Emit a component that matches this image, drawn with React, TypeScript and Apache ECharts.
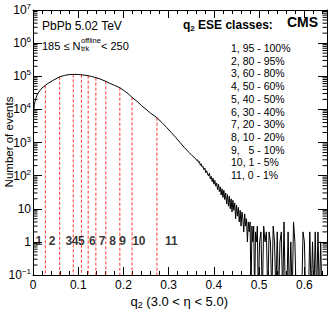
import React, { useEffect, useRef } from 'react';
import * as echarts from 'echarts';

const FONT = '"Liberation Sans", Arial, Helvetica, sans-serif';

// smooth part of the q2 distribution
const curveQ2 = [0.001, 0.003, 0.006, 0.010, 0.015, 0.020, 0.027, 0.035, 0.045, 0.059, 0.070, 0.080, 0.090, 0.100, 0.107, 0.115, 0.122, 0.130, 0.139, 0.150, 0.161, 0.170, 0.180, 0.192, 0.200, 0.210, 0.219, 0.230, 0.240, 0.250, 0.260, 0.274, 0.285, 0.296, 0.305, 0.315, 0.325, 0.335, 0.345, 0.352];
const curveCounts = [7000, 14000, 21000, 29000, 37000, 44000, 53000, 63000, 76000, 96000, 106000, 112000, 114000, 113000, 111000, 107000, 104000, 98000, 91000, 81000, 70000, 61000, 53000, 45000, 38000, 30000, 23000, 17500, 13000, 10000, 7700, 5600, 4000, 2800, 2050, 1450, 1000, 700, 500, 400];

// fluctuating tail, fine bins
const tailQ2 = [0.360, 0.362, 0.364, 0.366, 0.368, 0.370, 0.372, 0.374, 0.376, 0.378, 0.380, 0.382, 0.384, 0.386, 0.388, 0.390, 0.392, 0.394, 0.396, 0.398, 0.400, 0.402, 0.404, 0.406, 0.408, 0.410, 0.412, 0.414, 0.416, 0.418, 0.420, 0.422, 0.424, 0.426, 0.428, 0.430, 0.432, 0.434, 0.436, 0.438, 0.440, 0.442, 0.444, 0.446, 0.448, 0.450, 0.452, 0.454, 0.456, 0.458, 0.460, 0.462, 0.464, 0.466, 0.468, 0.470, 0.472, 0.474, 0.476, 0.478, 0.480, 0.482, 0.484, 0.486, 0.488, 0.490, 0.492, 0.494, 0.496, 0.498];
const tailCounts = [320, 285, 300, 250, 262, 205, 228, 180, 190, 150, 168, 122, 140, 112, 98, 118, 80, 95, 66, 84, 55, 72, 48, 60, 38, 55, 33, 46, 26, 40, 22, 36, 19, 30, 14, 27, 12, 24, 10, 20, 8, 18, 9, 15, 5, 13, 6, 11, 4, 9, 3, 8, 5, 2, 7, 3, 5, 1, 4, 2, 4, 0, 3, 1, 3, 0, 2, 1, 3, 0];

// sparse far tail
const farQ2 = [0.501, 0.504, 0.507, 0.510, 0.513, 0.516, 0.519, 0.522, 0.525, 0.528, 0.531, 0.534, 0.537, 0.540, 0.543, 0.546, 0.549, 0.552, 0.555, 0.558, 0.561, 0.564, 0.567, 0.570, 0.573, 0.576, 0.579, 0.582, 0.585, 0.588, 0.591, 0.594, 0.597, 0.600, 0.603, 0.606, 0.609, 0.612, 0.615, 0.618, 0.621, 0.624, 0.627, 0.630, 0.633, 0.636, 0.639, 0.642, 0.645, 0.648];
const farCounts = [1, 2, 0, 3, 1, 2, 0, 2, 1, 0, 3, 1, 0, 2, 0, 1, 2, 0, 4, 0, 0, 2, 0, 1, 0, 4, 1, 0, 0, 0, 0, 0, 2, 1, 0, 0, 0, 2, 0, 1, 0, 2, 0, 2, 0, 1, 0, 0, 0, 0];

// ESE class boundaries (red dashed lines)
const boundaryQ2 = [0.0273, 0.059, 0.089, 0.107, 0.122, 0.139, 0.161, 0.192, 0.219, 0.274];
const boundaryCounts = [53000, 96000, 114000, 111000, 104000, 91000, 70000, 45000, 23000, 5600];

// class numbers drawn above the axis
const classNumbers = ['1', '2', '3', '4', '5', '6', '7', '8', '9', '10', '11'];
const classLabelQ2 = [0.013, 0.042, 0.079, 0.093, 0.107, 0.131, 0.153, 0.176, 0.198, 0.234, 0.306];
const classLabelLevel = 1.1;

const classRanges = ['1, 95 - 100%', '2, 80 - 95%', '3, 60 - 80%', '4, 50 - 60%', '5, 40 - 50%', '6, 30 - 40%', '7, 20 - 30%', '8, 10 - 20%', '9,\u00a0\u00a0\u00a05 - 10%', '10, 1 - 5%', '11, 0 - 1%'];

const logMinorTicks: number[] = [];
for (let e = -1; e < 7; e++) {
  for (let m = 2; m <= 9; m++) logMinorTicks.push(m * Math.pow(10, e));
}

const X_MIN = 0;
const X_MAX = 0.65;
const Y_MIN = 0.1;
const Y_MAX = 1e7;
const ZERO_FLOOR = 0.02;

function yLabel(v: number) {
  const e = Math.round(Math.log10(v));
  if (e === 0) return '{n|1}';
  if (e === 1) return '{n|10}';
  return '{n|10}{s|' + (e < 0 ? '\u2212' : '') + Math.abs(e) + '}';
}

export default function App() {
  const ref = useRef<HTMLDivElement>(null);
  useEffect(() => {
    if (!ref.current) return;
    const chart = echarts.init(ref.current, null, { renderer: 'svg' });
    const allQ2 = curveQ2.concat(tailQ2, farQ2);
    const allCounts = curveCounts.concat(tailCounts, farCounts);
    const lineData = allQ2.map((q, i) => [q, allCounts[i] > 0 ? allCounts[i] : ZERO_FLOOR]);

    const xCommon = {
      type: 'value',
      min: X_MIN,
      max: X_MAX,
      interval: 0.1,
      axisLine: { show: true, onZero: false, lineStyle: { color: '#000', width: 1 } },
      axisTick: { show: true, inside: true, length: 8, lineStyle: { color: '#000', width: 1 } },
      minorTick: { show: true, splitNumber: 5, length: 4, lineStyle: { color: '#000', width: 1 } },
      splitLine: { show: false },
      minorSplitLine: { show: false },
    };
    const yCommon = {
      type: 'log',
      logBase: 10,
      min: Y_MIN,
      max: Y_MAX,
      splitNumber: 8,
      axisLine: { show: true, onZero: false, lineStyle: { color: '#000', width: 1 } },
      axisTick: { show: true, inside: true, length: 9, lineStyle: { color: '#000', width: 1 } },
      minorTick: { show: false },
      splitLine: { show: false },
    };

    const textStyle = (size: number, weight = 'normal') => ({
      fontSize: size,
      fontFamily: FONT,
      fontWeight: weight,
      fill: '#000',
    });

    const graphics: any[] = [
      {
        type: 'text', x: 42, y: 25.5,
        style: { text: 'PbPb 5.02 TeV', ...textStyle(12), align: 'left', verticalAlign: 'middle' },
      },
      {
        type: 'text', x: 42, y: 45.5,
        style: { text: '185 \u2264 N', ...textStyle(11), align: 'left', verticalAlign: 'middle' },
      },
      {
        type: 'text', x: 81, y: 40.5,
        style: { text: 'offline', ...textStyle(7.5), align: 'left', verticalAlign: 'middle' },
      },
      {
        type: 'text', x: 81, y: 48.5,
        style: { text: 'trk', ...textStyle(7.5), align: 'left', verticalAlign: 'middle' },
      },
      {
        type: 'text', x: 101, y: 45.5,
        style: { text: '< 250', ...textStyle(11), align: 'left', verticalAlign: 'middle' },
      },
      {
        type: 'text', x: 183, y: 25,
        style: {
          text: '{b|q}{s|2}{b| ESE classes:}',
          ...textStyle(12, 'bold'),
          align: 'left', verticalAlign: 'middle',
          rich: {
            b: { fontSize: 12, fontWeight: 'bold', fontFamily: FONT, fill: '#000' },
            s: { fontSize: 8, fontWeight: 'bold', fontFamily: FONT, fill: '#000', padding: [7, 0, 0, 0] },
          },
        },
      },
      {
        type: 'text', x: 287, y: 22,
        style: { text: 'CMS', ...textStyle(14, 'bold'), align: 'left', verticalAlign: 'middle' },
      },
      {
        type: 'text', x: 9, y: 142, rotation: Math.PI / 2,
        style: { text: 'Number of events', ...textStyle(11.5), align: 'center', verticalAlign: 'middle' },
      },
      {
        type: 'text', x: 228, y: 301,
        style: {
          text: '{a|q}{s|2}{a| (3.0 < \u03b7 < 5.0)}',
          ...textStyle(13),
          align: 'right', verticalAlign: 'middle',
          rich: {
            a: { fontSize: 13, fontFamily: FONT, fill: '#000' },
            s: { fontSize: 9, fontFamily: FONT, fill: '#000', padding: [8, 0, 0, 0] },
          },
        },
      },
    ];
    classRanges.forEach((t, i) => {
      graphics.push({
        type: 'text', x: 231, y: 48 + i * 12.7,
        style: { text: t, ...textStyle(10.5), align: 'left', verticalAlign: 'middle' },
      });
    });

    chart.setOption({
      animation: false,
      backgroundColor: '#fff',
      grid: { left: 33, right: 5, top: 10, bottom: 39, containLabel: false, outerBoundsMode: 'none' },
      xAxis: [
        {
          ...xCommon,
          position: 'bottom',
          axisLabel: {
            show: true, showMaxLabel: false, margin: 4, color: '#000', fontSize: 12, fontFamily: FONT,
            formatter: (v: number) => (v === 0 ? '0' : v.toFixed(1)),
          },
        },
        { ...xCommon, position: 'top', axisLabel: { show: false } },
      ],
      yAxis: [
        {
          ...yCommon,
          position: 'left',
          axisLabel: {
            show: true, margin: 2, color: '#000', fontSize: 12, fontFamily: FONT,
            formatter: yLabel,
            rich: {
              n: { fontSize: 12, fontFamily: FONT, color: '#000' },
              s: { fontSize: 8, fontFamily: FONT, color: '#000', padding: [0, 0, 7, 0] },
            },
          },
        },
        { ...yCommon, position: 'right', axisLabel: { show: false } },
      ],
      graphic: graphics,
      series: [
        {
          type: 'custom',
          xAxisIndex: 0,
          yAxisIndex: 0,
          data: boundaryQ2.map((q, i) => [q, boundaryCounts[i]]),
          encode: { x: 0, y: 1 },
          renderItem: (params: any, api: any) => {
            const top = api.coord([api.value(0), api.value(1)]);
            const bot = api.coord([api.value(0), Y_MIN]);
            return {
              type: 'line',
              shape: { x1: top[0], y1: top[1], x2: bot[0], y2: bot[1] },
              style: { stroke: '#ff3030', lineWidth: 1, lineDash: [3, 2] },
            };
          },
          z: 2,
        },
        {
          type: 'line',
          xAxisIndex: 0,
          yAxisIndex: 0,
          data: lineData,
          showSymbol: false,
          symbol: 'none',
          clip: true,
          lineStyle: { color: '#000', width: 1 },
          z: 3,
        },
        {
          type: 'scatter',
          xAxisIndex: 0,
          yAxisIndex: 0,
          symbolSize: 1,
          itemStyle: { color: 'rgba(0,0,0,0)' },
          data: classLabelQ2.map((q, i) => ({ value: [q, classLabelLevel], name: classNumbers[i] })),
          label: {
            show: true,
            position: 'inside',
            formatter: '{b}',
            color: '#000',
            fontSize: 12,
            fontWeight: 'bold',
            fontFamily: FONT,
          },
          z: 4,
        },
        {
          type: 'custom',
          xAxisIndex: 0,
          yAxisIndex: 0,
          data: logMinorTicks.map((v) => [X_MIN, v]),
          encode: { x: 0, y: 1 },
          clip: false,
          renderItem: (params: any, api: any) => {
            const v = api.value(1);
            const pl = api.coord([X_MIN, v]);
            const pr = api.coord([X_MAX, v]);
            return {
              type: 'group',
              children: [
                { type: 'line', shape: { x1: pl[0], y1: pl[1], x2: pl[0] + 4.5, y2: pl[1] }, style: { stroke: '#000', lineWidth: 1 } },
                { type: 'line', shape: { x1: pr[0], y1: pr[1], x2: pr[0] - 4.5, y2: pr[1] }, style: { stroke: '#000', lineWidth: 1 } },
              ],
            };
          },
          z: 5,
        },
      ],
    });
    return () => chart.dispose();
  }, []);
  return <div ref={ref} style={{ position: 'absolute', left: 0, top: 0, width: 332, height: 314 }} />;
}
